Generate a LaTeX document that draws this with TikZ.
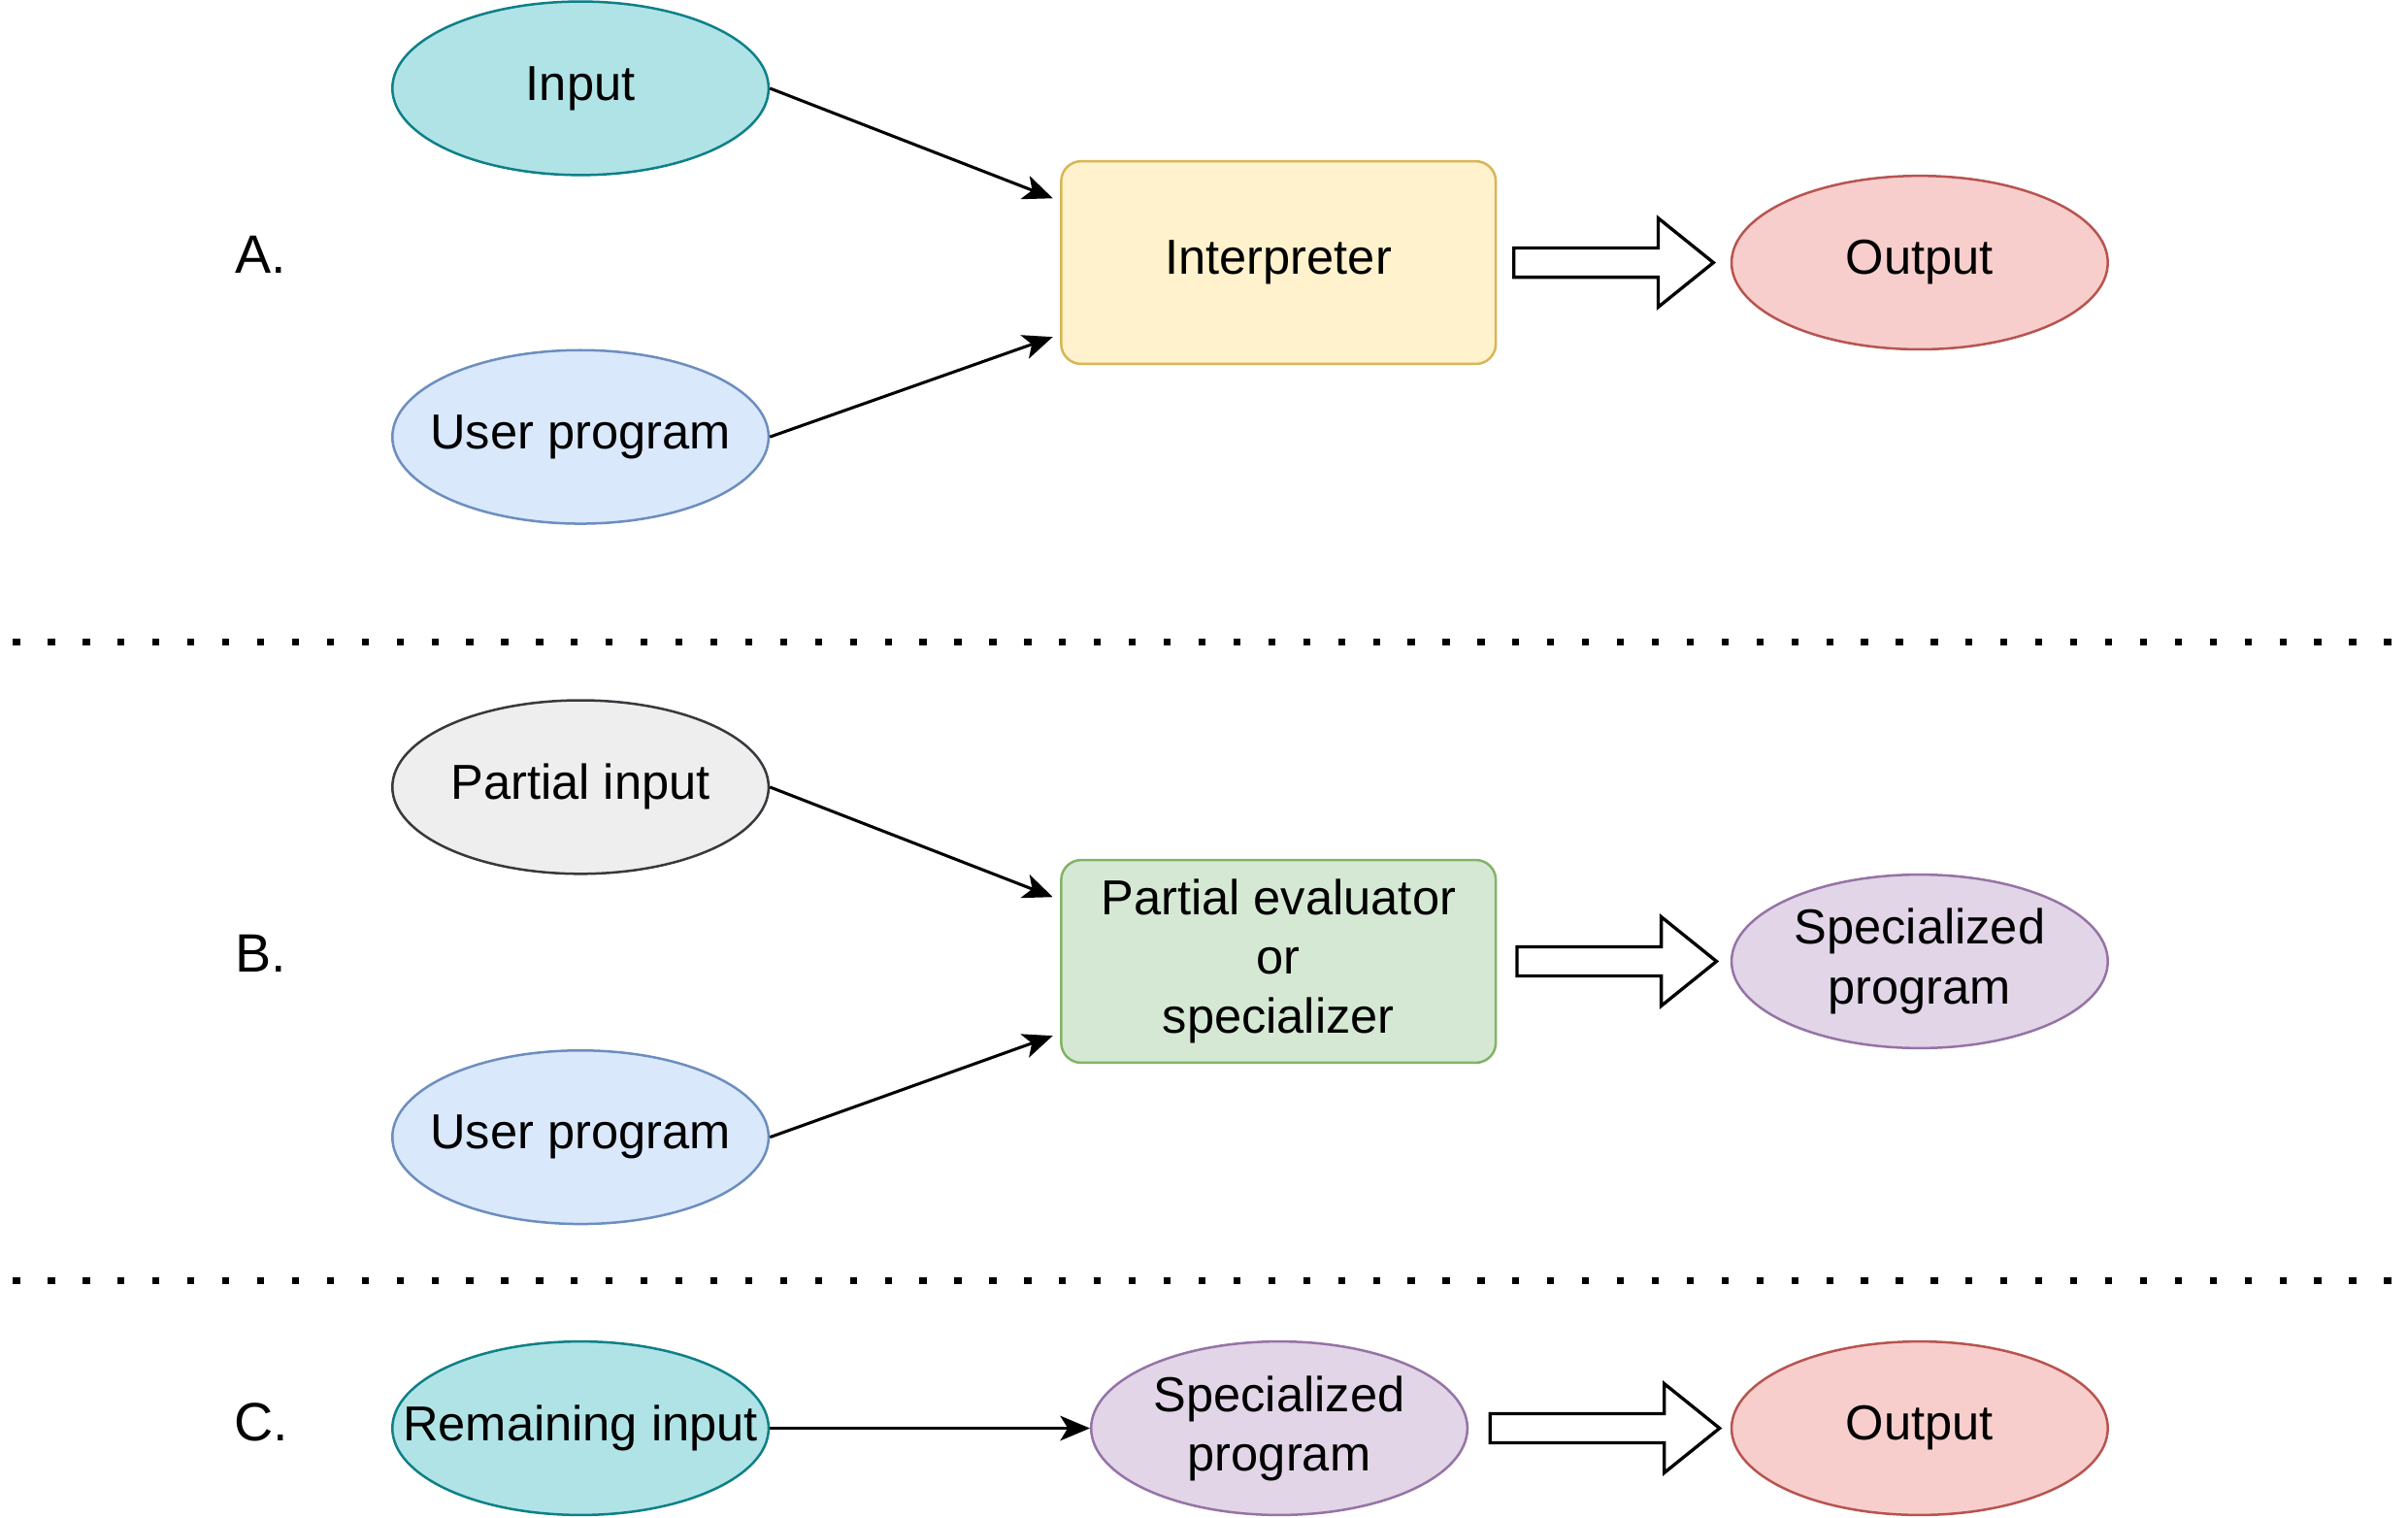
\documentclass[tikz,border=0pt]{standalone}
\usepackage{fontspec}
\setmainfont{Liberation Sans}
\usepackage{xcolor}
\usetikzlibrary{arrows.meta,calc,shapes.geometric}

\definecolor{tealfill}{HTML}{B0E3E6}
\definecolor{tealline}{HTML}{0E8088}
\definecolor{bluefill}{HTML}{DAE8FC}
\definecolor{blueline}{HTML}{6C8EBF}
\definecolor{yellowfill}{HTML}{FFF2CC}
\definecolor{yellowline}{HTML}{D6B656}
\definecolor{redfill}{HTML}{F8CECC}
\definecolor{redline}{HTML}{B85450}
\definecolor{greyfill}{HTML}{EEEEEE}
\definecolor{greyline}{HTML}{36393D}
\definecolor{greenfill}{HTML}{D5E8D4}
\definecolor{greenline}{HTML}{82B366}
\definecolor{purplefill}{HTML}{E1D5E7}
\definecolor{purpleline}{HTML}{9673A6}

% hollow block arrow between two coordinates on one level
\newcommand{\fatarrow}[2]{%
  \draw[fat] ($(#1)+(0,0.095)$) -- ($(#2)+(-0.36,0.095)$) -- ($(#2)+(-0.36,0.29)$)
    -- (#2) -- ($(#2)+(-0.36,-0.29)$) -- ($(#2)+(-0.36,-0.095)$)
    -- ($(#1)+(0,-0.095)$) -- cycle;}

\begin{document}
\begin{tikzpicture}[
    font=\fontsize{9.1pt}{11pt}\selectfont,
    oval/.style={ellipse, draw, line width=0.45pt, inner xsep=-0.3cm, inner ysep=-0.05cm, minimum width=2.45cm, minimum height=1.13cm, align=center},
    box/.style={rectangle, draw, line width=0.45pt, rounded corners=0.13cm, minimum width=2.83cm, minimum height=1.32cm, align=center},
    arrow/.style={-{Stealth[length=5.5pt, width=4.6pt, inset=1.4pt]}, line width=0.55pt},
    fat/.style={draw, line width=0.6pt, fill=white, line join=miter},
    dots/.style={line width=1.3pt, dash pattern=on 1.3pt off 5.16pt},
    tag/.style={font=\fontsize{10pt}{12pt}\selectfont}
]
\useasboundingbox (0,0) rectangle (15.68,-9.88);

% Part A
\node[tag] (lblA) at (1.70,-1.66) {A.};
\node[oval, fill=tealfill, draw=tealline] (input) at (3.78,-0.575) {Input};
\node[oval, fill=bluefill, draw=blueline] (progA) at (3.78,-2.845) {User program};
\node[box, fill=yellowfill, draw=yellowline] (interp) at (8.325,-1.71) {Interpreter};
\node[oval, fill=redfill, draw=redline] (outA) at (12.50,-1.71) {Output};

% Part B
\node[tag] (lblB) at (1.70,-6.21) {B.};
\node[oval, fill=greyfill, draw=greyline] (pinput) at (3.78,-5.125) {Partial input};
\node[oval, fill=bluefill, draw=blueline] (progB) at (3.78,-7.405) {User program};
\node[box, fill=greenfill, draw=greenline] (peval) at (8.325,-6.26) {Partial evaluator\\or\\specializer};
\node[oval, fill=purplefill, draw=purpleline] (specB) at (12.50,-6.26) {Specialized\\program};

% Part C
\node[tag] (lblC) at (1.70,-9.26) {C.};
\node[oval, fill=tealfill, draw=tealline] (rinput) at (3.78,-9.30) {Remaining input};
\node[oval, fill=purplefill, draw=purpleline] (specC) at (8.33,-9.30) {Specialized\\program};
\node[oval, fill=redfill, draw=redline] (outC) at (12.50,-9.30) {Output};

% Separators
\coordinate (sep1a) at (0.085,-4.18);
\coordinate (sep1b) at (15.68,-4.18);
\coordinate (sep2a) at (0.085,-8.34);
\coordinate (sep2b) at (15.68,-8.34);
\draw[dots] (sep1a) -- (sep1b);
\draw[dots] (sep2a) -- (sep2b);

% Arrows
\draw[arrow, shorten >=0.05cm] (input.east) -- ($(interp.north west)!0.2!(interp.south west)$);
\draw[arrow, shorten >=0.05cm] (progA.east) -- ($(interp.north west)!0.85!(interp.south west)$);
\draw[arrow, shorten >=0.05cm] (pinput.east) -- ($(peval.north west)!0.2!(peval.south west)$);
\draw[arrow, shorten >=0.05cm] (progB.east) -- ($(peval.north west)!0.85!(peval.south west)$);
\draw[arrow] (rinput.east) -- (specC.west);

% Block arrows
\coordinate (faA1) at ($(interp.east)+(0.11,0)$);
\coordinate (faA2) at ($(outA.west)+(-0.11,0)$);
\coordinate (faB1) at ($(peval.east)+(0.13,0)$);
\coordinate (faB2) at ($(specB.west)+(-0.09,0)$);
\coordinate (faC1) at ($(specC.east)+(0.14,0)$);
\coordinate (faC2) at ($(outC.west)+(-0.07,0)$);
\fatarrow{faA1}{faA2}
\fatarrow{faB1}{faB2}
\fatarrow{faC1}{faC2}

\end{tikzpicture}
\end{document}
